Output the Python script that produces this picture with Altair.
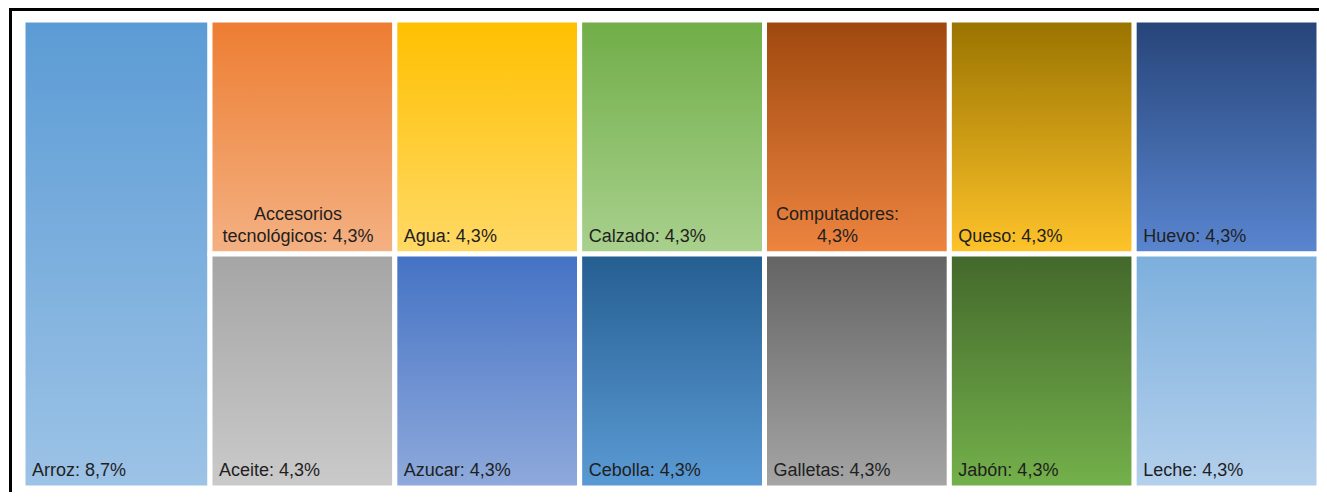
import altair as alt
import pandas as pd

# ---- data ----
names = ["Arroz", "Accesorios tecnológicos", "Aceite", "Agua", "Azucar",
         "Calzado", "Cebolla", "Computadores", "Galletas", "Queso",
         "Jabón", "Huevo", "Leche"]
shares = [8.7, 4.3, 4.3, 4.3, 4.3, 4.3, 4.3, 4.3, 4.3, 4.3, 4.3, 4.3, 4.3]
columns = [0, 1, 1, 2, 2, 3, 3, 4, 4, 5, 5, 6, 6]
labels = ["Arroz: 8,7%", "Accesorios\ntecnológicos: 4,3%", "Aceite: 4,3%",
          "Agua: 4,3%", "Azucar: 4,3%", "Calzado: 4,3%", "Cebolla: 4,3%",
          "Computadores:\n4,3%", "Galletas: 4,3%", "Queso: 4,3%",
          "Jabón: 4,3%", "Huevo: 4,3%", "Leche: 4,3%"]
top_colors = ["#5B9BD5", "#ED7D31", "#A5A5A5", "#FFC000", "#4472C4",
              "#70AD47", "#255E91", "#9E480E", "#636363", "#997300",
              "#43682B", "#264478", "#7CAFDD"]
bottom_colors = ["#9DC3E6", "#F4B183", "#CACACA", "#FFD966", "#8FAADC",
                 "#A9D18E", "#5B9BD5", "#EE8540", "#A5A5A5", "#FFC42A",
                 "#74B14B", "#5A86D0", "#B4D0EC"]

# ---- simple slice layout computed from the values ----
col_tot = {}
for s, c in zip(shares, columns):
    col_tot[c] = col_tot.get(c, 0) + s
x_start, acc = {}, 0.0
for c in sorted(col_tot):
    x_start[c] = acc
    acc += col_tot[c]
total_w = acc
y_acc = {c: 0.0 for c in col_tot}
rows = []
for n, s, c, lab in zip(names, shares, columns, labels):
    x0 = x_start[c]
    x1 = x0 + col_tot[c]
    y0 = y_acc[c]
    y1 = y0 + s / col_tot[c] * 100
    y_acc[c] = y1
    rows.append(dict(name=n, share=s, x0=x0, x1=x1, y0=y0, y1=y1, label=lab))
df = pd.DataFrame(rows)

xs = alt.Scale(domain=[0, total_w], nice=False, zero=False)
ys = alt.Scale(domain=[0, 100], reverse=True, nice=False, zero=False)

base = alt.Chart(df)
layers = []
for i, n in enumerate(names):
    grad = alt.Gradient(
        gradient="linear",
        stops=[alt.GradientStop(color=top_colors[i], offset=0),
               alt.GradientStop(color=bottom_colors[i], offset=1)],
        x1=0, x2=0, y1=0, y2=1)
    layers.append(
        base.transform_filter(alt.datum.name == n)
        .mark_rect(fill=grad, stroke="white", strokeWidth=5)
        .encode(x=alt.X("x0:Q", scale=xs, axis=None), x2="x1:Q",
                y=alt.Y("y0:Q", scale=ys, axis=None), y2="y1:Q")
    )

font = "Liberation Sans"
single = base.transform_filter(
    "indexof(datum.label, '\\n') < 0"
).mark_text(align="left", baseline="bottom", dx=9, dy=-8, font=font,
            fontSize=18, color="#1f1f1f").encode(
    x=alt.X("x0:Q", scale=xs, axis=None),
    y=alt.Y("y1:Q", scale=ys, axis=None),
    text="label:N")
layers.append(single)

for n, off in [("Accesorios tecnológicos", 88), ("Computadores", 73)]:
    layers.append(
        base.transform_filter(alt.datum.name == n)
        .mark_text(align="center", baseline="bottom", dx=off, dy=-30,
                   font=font, fontSize=18, lineBreak="\n", lineHeight=21.5,
                   color="#1f1f1f")
        .encode(x=alt.X("x0:Q", scale=xs, axis=None),
                y=alt.Y("y1:Q", scale=ys, axis=None),
                text="label:N")
    )

# frame lines (decoration)
left_line = base.mark_rule(color="black", strokeWidth=3).encode(
    x=alt.value(-12.5), y=alt.value(-12), y2=alt.value(480))
top_line = base.mark_rule(color="black", strokeWidth=3).encode(
    x=alt.value(-14), x2=alt.value(1300), y=alt.value(-10.5))
layers += [left_line, top_line]

chart = alt.layer(*layers).properties(
    width=1296, height=468,
    padding={"left": 15, "top": 12, "right": 0, "bottom": 4},
    autosize=alt.AutoSizeParams(type="none"),
    background="white",
).configure_view(stroke=None)

chart.save("out.html", embed_options={"renderer": "svg", "actions": False})
